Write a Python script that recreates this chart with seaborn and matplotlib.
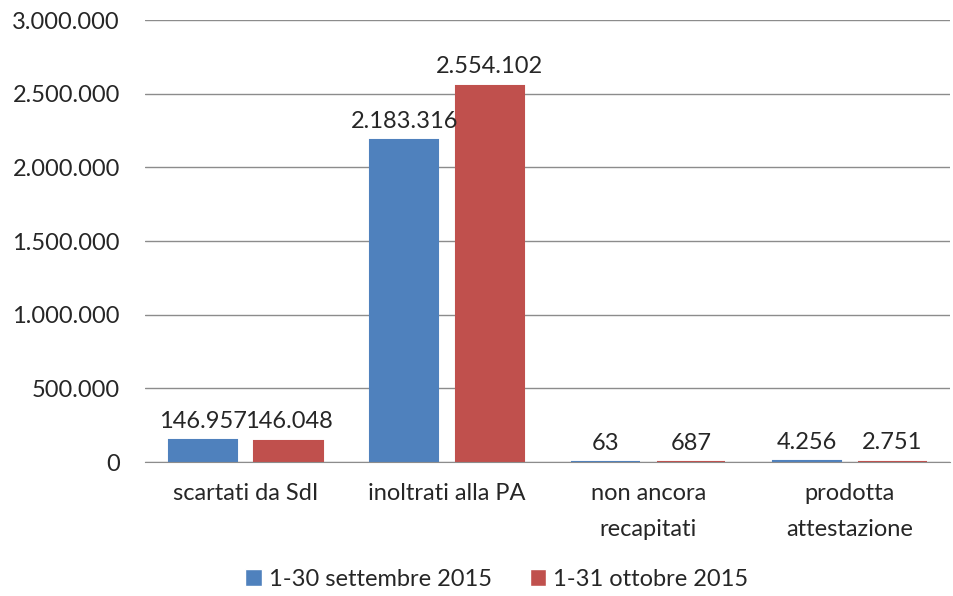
import pandas as pd
import matplotlib.pyplot as plt
import seaborn as sns
from matplotlib.ticker import FuncFormatter, MultipleLocator

categories = ['scartati da SdI', 'inoltrati alla PA', 'non ancora\nrecapitati', 'prodotta\nattestazione']
series = ['1-30 settembre 2015', '1-31 ottobre 2015']
settembre = [146957, 2183316, 63, 4256]
ottobre = [146048, 2554102, 687, 2751]
colors = ['#4F81BD', '#C0504D']

df = pd.DataFrame({
    'categoria': categories * 2,
    'periodo': [series[0]] * 4 + [series[1]] * 4,
    'valore': settembre + ottobre,
})

sns.set_style('white')
plt.rcParams['font.family'] = ['Lato', 'DejaVu Sans']


def it_fmt(v, pos=None):
    return f'{int(round(v)):,}'.replace(',', '.')


fig = plt.figure(figsize=(9.54, 5.96), dpi=100)
ax = fig.add_axes([0.152, 0.2248, 0.844, 0.7416])

sns.barplot(data=df, x='categoria', y='valore', hue='periodo', palette=colors,
            width=0.85, gap=0.2, saturation=1, ax=ax, legend=True)

# Excel keeps tiny bars visible; mimic with a same-colour edge
for cont, c in zip(ax.containers, colors):
    for bar in cont:
        bar.set_edgecolor(c)
        bar.set_linewidth(1.5)
    ax.bar_label(cont, labels=[it_fmt(b.get_height()) for b in cont],
                 padding=6, fontsize=17, color='#262626')

ax.set_ylim(0, 3000000)
ax.yaxis.set_major_locator(MultipleLocator(500000))
ax.yaxis.set_major_formatter(FuncFormatter(it_fmt))
ax.grid(axis='y', color='#8c8c8c', linewidth=1)
ax.set_axisbelow(True)
for s in ['top', 'right', 'left']:
    ax.spines[s].set_visible(False)
ax.spines['bottom'].set_color('#8c8c8c')
ax.tick_params(axis='both', length=0, labelsize=17, colors='#262626')
ax.tick_params(axis='y', pad=18)
ax.tick_params(axis='x', pad=15)
ax.set_xticks(range(len(categories)))
ax.set_xticklabels(categories)
fig.canvas.draw()
for t in ax.get_xticklabels():
    t.set_linespacing(1.9)
ax.set_xlabel('')
ax.set_ylabel('')

handles, labels = ax.get_legend_handles_labels()
ax.get_legend().remove()
fig.legend(handles, labels, loc='center', bbox_to_anchor=(0.521, 0.028), ncol=2,
           frameon=False, fontsize=17, handlelength=0.7, handleheight=0.7,
           handletextpad=0.3, columnspacing=1.6, labelcolor='#262626')

fig.savefig('out.png', dpi=100)
